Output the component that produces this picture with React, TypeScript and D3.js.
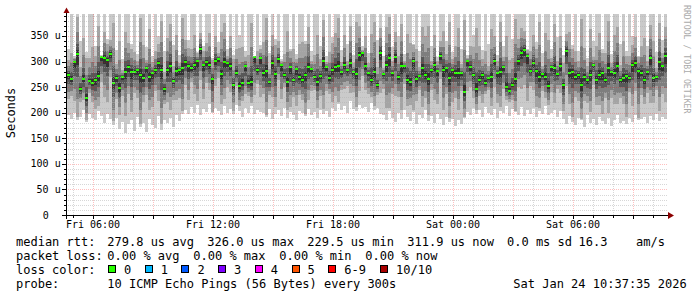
import React from "react";
import * as d3 from "d3";

const W = 697;
const H = 297;
const START = new Date(2026, 0, 23, 4, 42, 0);
const END = new Date(2026, 0, 24, 10, 42, 0);
const STEP_MS = 9 * 60 * 1000;
const Y_MAX = 393;

// median RTT per sample (microseconds)
const medianRtt = [
  274, 266, 300, 315, 246, 266, 229, 262, 258, 264, 272, 309, 307, 303, 315, 258, 268, 248, 270, 280,
  289, 280, 280, 283, 274, 268, 287, 270, 278, 283, 297, 283, 246, 283, 291, 262, 282, 283, 287, 299,
  291, 287, 293, 301, 325, 293, 299, 293, 266, 301, 305, 276, 299, 297, 291, 254, 278, 252, 258, 291,
  258, 260, 309, 283, 307, 278, 282, 260, 297, 276, 305, 293, 274, 260, 289, 264, 285, 270, 264, 274,
  289, 285, 270, 260, 272, 301, 289, 268, 283, 289, 291, 280, 293, 283, 297, 280, 276, 313, 317, 292,
  278, 264, 280, 254, 317, 276, 293, 307, 278, 309, 270, 291, 291, 264, 260, 301, 266, 272, 287, 274,
  266, 283, 293, 282, 311, 283, 287, 268, 283, 278, 278, 278, 240, 301, 289, 274, 246, 264, 274, 258,
  268, 270, 301, 278, 280, 289, 250, 242, 254, 266, 301, 317, 323, 311, 282, 297, 282, 270, 276, 270,
  252, 289, 287, 276, 291, 254, 321, 278, 280, 270, 274, 254, 270, 264, 274, 293, 264, 274, 278, 264,
  287, 280, 278, 291, 264, 268, 272, 268, 293, 297, 282, 278, 264, 280, 307, 268, 270, 299, 291, 311,
];

// slowest ping per sample (microseconds)
const maxPing = [
  325, 393, 310, 393, 340, 393, 318, 393, 393, 330, 393, 312, 393, 345, 393, 393, 322, 393, 305, 393,
  393, 335, 393, 315, 393, 393, 328, 393, 310, 393, 350, 393, 320, 393, 393, 332, 393, 312, 393, 393,
  342, 393, 393, 318, 393, 330, 393, 393, 306, 393, 338, 393, 393, 325, 393, 313, 393, 352, 393, 320,
  393, 393, 310, 393, 332, 393, 393, 316, 393, 345, 393, 305, 393, 393, 325, 393, 314, 393, 393, 340,
  393, 320, 393, 393, 330, 393, 310, 393, 348, 393, 393, 322, 393, 335, 393, 312, 393, 393, 330, 393,
  316, 393, 393, 342, 393, 310, 393, 393, 328, 393, 350, 393, 315, 393, 393, 335, 393, 320, 393, 393,
  393, 330, 393, 308, 393, 393, 340, 393, 318, 393, 393, 325, 393, 312, 393, 352, 393, 393, 322, 393,
  335, 393, 393, 313, 393, 330, 393, 393, 345, 393, 393, 393, 393, 325, 393, 393, 338, 393, 316, 393,
  393, 325, 393, 348, 393, 312, 393, 393, 332, 393, 320, 393, 393, 306, 393, 340, 393, 393, 325, 393,
  393, 315, 393, 393, 335, 393, 320, 393, 350, 393, 310, 393, 393, 330, 393, 393, 318, 393, 342, 393,
];

// fastest ping per sample (microseconds)
const minPing = [
  196, 188, 200, 185, 192, 205, 182, 198, 190, 186, 203, 194, 180, 197, 188,
  175, 190, 168, 182, 160, 178, 186, 165, 192, 172, 180, 163, 188, 176, 170, 194, 166, 185, 179, 190, 172, 195, 184, 198,
  205, 198, 212, 200, 215, 196, 208, 202, 218, 199, 210, 204, 195, 213, 200, 207, 198, 216, 203, 192, 209, 200, 214, 197, 206, 201,
  200, 192, 207, 188, 198, 205, 194, 210, 190, 202, 196, 186, 204, 199, 193, 208, 195, 201, 190, 206, 197, 203, 192,
  210, 204, 218, 206, 214, 200, 222, 208, 203, 216, 209, 212, 201, 219, 205, 210, 198,
  195, 186, 204, 190, 182, 199, 188, 206, 192, 184, 201, 178, 196, 189, 205, 183, 193, 180, 198, 187, 176, 192, 182, 188, 174, 185, 178, 190,
  202, 195, 210, 198, 206, 192, 212, 200, 196, 208, 190, 204, 199, 214, 193, 207, 201, 196, 211, 194, 205, 198, 209, 192, 203, 197, 213, 195, 200, 206, 191, 204,
  188, 178, 194, 182, 176, 190, 185, 172, 196, 180, 187, 175, 192, 183, 178, 189, 174, 186, 195, 180, 184, 177,
  190, 182, 196, 185, 188, 192, 180, 194, 186, 198, 184, 191, 187,
];

// how widely the middle pings spread round the median per sample (relative)
const coreSpread = [
  1.0, 0.7, 1.3, 1.6, 0.8, 1.1, 1.5, 0.6, 0.9, 1.2, 1.4, 0.7, 1.0, 1.3, 0.6, 1.5, 0.9, 1.1, 0.7, 1.2,
  0.8, 1.4, 0.6, 1.0, 1.6, 0.9, 0.7, 1.3, 1.1, 0.6, 1.2, 1.5, 0.8, 1.0, 1.4, 0.7, 1.1, 0.9, 1.6, 0.8,
  1.2, 0.6, 1.0, 1.5, 0.8, 1.3, 0.7, 1.1, 1.6, 0.9, 0.6, 1.2, 1.4, 0.8, 1.0, 1.5, 0.7, 1.3, 0.9, 1.1,
  0.7, 1.5, 1.1, 0.6, 1.2, 0.9, 1.6, 0.8, 1.0, 1.4, 0.7, 1.1, 0.6, 1.3, 1.5, 0.8, 1.2, 0.9, 1.0, 1.6,
  1.3, 0.8, 0.6, 1.2, 1.0, 1.5, 0.9, 0.7, 1.4, 1.1, 1.6, 0.8, 1.0, 0.6, 1.3, 0.9, 1.5, 1.2, 0.7, 1.0,
  0.9, 1.2, 1.5, 0.7, 1.1, 0.6, 1.3, 1.6, 0.8, 1.0, 0.9, 1.4, 0.7, 1.2, 1.0, 1.6, 0.8, 0.6, 1.3, 1.1,
  1.4, 0.7, 1.0, 1.3, 0.6, 1.2, 0.9, 1.5, 1.1, 0.8, 1.3, 0.6, 1.6, 1.0, 0.7, 1.2, 1.4, 0.9, 1.1, 0.8,
  0.6, 1.3, 0.9, 1.1, 1.5, 0.8, 1.2, 0.7, 1.0, 1.6, 0.8, 1.1, 0.9, 1.4, 0.6, 1.0, 1.3, 1.5, 0.7, 1.2,
  1.1, 0.9, 1.4, 0.6, 1.0, 1.3, 0.8, 1.2, 1.5, 0.7, 1.0, 1.6, 0.8, 1.1, 1.3, 0.6, 0.9, 1.2, 1.4, 0.7,
  1.5, 0.8, 1.1, 1.3, 0.7, 1.0, 1.4, 0.6, 1.2, 0.9, 1.6, 0.8, 1.1, 0.7, 1.3, 1.0, 0.6, 1.4, 0.9, 1.2,
];

const yTickValues = [0, 50, 100, 150, 200, 250, 300, 350];
const yTickLabels = ["0\u00a0\u00a0", "50 u", "100 u", "150 u", "200 u", "250 u", "300 u", "350 u"];

const legendRtt = ["279.8 us avg", "326.0 us max", "229.5 us min", "311.9 us now", "0.0 ms sd", "16.3", "am/s"];
const legendLoss = ["0.00 % avg", "0.00 % max", "0.00 % min", "0.00 % now"];
const lossLabels = ["0", "1", "2", "3", "4", "5", "6-9", "10/10"];
const lossColors = ["#26ff00", "#00b8ff", "#0059ff", "#7e00ff", "#ff00ff", "#ff5500", "#ff0000", "#a80000"];
const probeText = "10 ICMP Echo Pings (56 Bytes) every 300s";
const stampText = "Sat Jan 24 10:37:35 2026";

// smoke band shades (outer to inner) and their share of the spread
const shades = ["#cacaca", "#a4a4a4", "#7e7e7e", "#585858", "#323232"];
const upShare = [1, 0.58, 0.34, 0.16, 0.06];
const downShare = [1, 0.6, 0.42, 0.22, 0.1];

const MONO = "'DejaVu Sans Mono', monospace";

export default function App() {
  const left = 67, right = 667, top = 14, bottom = 215;
  const x = d3.scaleTime().domain([START, END]).range([left, right]);
  const y = d3.scaleLinear().domain([0, Y_MAX]).range([bottom, top]);
  const cy = (v: number) => y(Math.min(Math.max(v, 0), Y_MAX));

  const samples = medianRtt.map((m, i) => {
    const t0 = new Date(START.getTime() + i * STEP_MS);
    const t1 = new Date(START.getTime() + (i + 1) * STEP_MS);
    return { m, lo: minPing[i], hi: maxPing[i], k: coreSpread[i], x0: x(t0), x1: x(t1) };
  });

  const bands = shades.map((c, k) =>
    samples.map((s) => {
      const fu = k === 0 ? 1 : Math.min(0.95, upShare[k] * s.k);
      const fd = k === 0 ? 1 : Math.min(0.95, downShare[k] * s.k);
      return { x0: s.x0, x1: s.x1, hi: s.m + (s.hi - s.m) * fu, lo: s.m - (s.m - s.lo) * fd };
    })
  );

  const hours = d3.timeHour.range(START, new Date(END.getTime() + 1));
  const minorX = hours.filter((h) => h.getHours() % 3 !== 0);
  const majorX = hours.filter((h) => h.getHours() % 3 === 0);
  const labelX = hours.filter((h) => h.getHours() % 6 === 0);
  const fmt = d3.timeFormat("%a %H:%M");

  const minorY = d3.range(10, Y_MAX, 10).filter((v) => v % 50 !== 0);
  const majorY = d3.range(50, Y_MAX, 50);

  const py = (v: number) => Math.round(y(v)) + 0.5;
  const px = (d: Date) => Math.round(x(d)) + 0.5;

  const lx = 16;
  const vx = 107.3;
  const rttX = [107.3, 207.3, 307.3, 407.3, 507, 578.5, 636];
  const lossX = [107.3, 193.3, 279.3, 365.3];
  const boxX = [108.5, 145.2, 181.9, 218.6, 255.3, 292.0, 328.7, 380.5];
  const base = [245.5, 259.5, 273.5, 287.5];

  return (
    <div style={{ position: "fixed", left: 0, top: 0, width: W, height: H, background: "#fff" }}>
      <svg width={W} height={H} style={{ display: "block" }}>
        <rect x={0} y={0} width={W} height={H} fill="#ffffff" />
        {/* smoke */}
        <g shapeRendering="crispEdges">
          {bands.map((band, k) => (
            <g key={k} fill={shades[k]}>
              {band.map((b, i) => {
                const yt = cy(b.hi);
                const yb = cy(b.lo);
                return <rect key={i} x={b.x0} y={yt} width={b.x1 - b.x0} height={Math.max(0, yb - yt)} />;
              })}
            </g>
          ))}
          {/* median */}
          {samples.map((s, i) => (
            <rect key={"m" + i} x={s.x0} y={cy(s.m + 2)} width={s.x1 - s.x0} height={cy(s.m - 2) - cy(s.m + 2)} fill={lossColors[0]} />
          ))}
        </g>
        {/* grid */}
        <g strokeDasharray="1,1" shapeRendering="crispEdges">
          {minorY.map((v) => (
            <line key={"my" + v} x1={64} x2={right} y1={py(v)} y2={py(v)} stroke="#b0b0b0" strokeOpacity={0.5} />
          ))}
          {minorX.map((d, i) => (
            <line key={"mx" + i} x1={px(d)} x2={px(d)} y1={top} y2={bottom} stroke="#b0b0b0" strokeOpacity={0.5} />
          ))}
          {majorY.map((v) => (
            <line key={"My" + v} x1={62} x2={right} y1={py(v)} y2={py(v)} stroke="#ff0000" strokeOpacity={0.25} />
          ))}
          {majorX.map((d, i) => (
            <line key={"Mx" + i} x1={px(d)} x2={px(d)} y1={top} y2={bottom} stroke="#ff0000" strokeOpacity={0.25} />
          ))}
        </g>
        {/* axis ticks */}
        <g shapeRendering="crispEdges" stroke="#000">
          {majorY.map((v) => (
            <line key={"ty" + v} x1={62} x2={66} y1={py(v)} y2={py(v)} />
          ))}
          {minorY.map((v) => (
            <line key={"tmy" + v} x1={64} x2={66} y1={py(v)} y2={py(v)} />
          ))}
          {majorX.map((d, i) => (
            <line key={"tx" + i} x1={px(d)} x2={px(d)} y1={216} y2={219} />
          ))}
          {minorX.map((d, i) => (
            <line key={"tmx" + i} x1={px(d)} x2={px(d)} y1={216} y2={218} />
          ))}
          <line x1={62} x2={669} y1={215.5} y2={215.5} />
          <line x1={66.5} x2={66.5} y1={11} y2={219} />
        </g>
        {/* arrows */}
        <polygon points="63.5,13 69.5,13 66.5,7.5" fill="#8b0000" />
        <polygon points="668,212 668,219 674,215.5" fill="#8b0000" />
        {/* axis labels */}
        <g fontFamily={MONO} fontSize={10} fill="#000">
          {yTickValues.map((v, i) => (
            <text key={"yl" + v} x={60.7} y={y(v) + 3.5} textAnchor="end">
              {yTickLabels[i]}
            </text>
          ))}
          {labelX.map((d, i) => (
            <text key={"xl" + i} x={x(d)} y={228} textAnchor="middle">
              {fmt(d)}
            </text>
          ))}
        </g>
        <text transform="translate(14.5,113) rotate(-90)" textAnchor="middle" fontFamily={MONO} fontSize={12} fill="#000">
          Seconds
        </text>
        <text transform="translate(684,5) rotate(90)" fontFamily={MONO} fontSize={8.2} fill="#aaaaaa">
          RRDTOOL / TOBI OETIKER
        </text>
        {/* legend */}
        <g fontFamily={MONO} fontSize={12} fill="#000" style={{ whiteSpace: "pre" }}>
          <text x={lx} y={base[0]}>median rtt:</text>
          {legendRtt.map((t, i) => (
            <text key={"r" + i} x={rttX[i]} y={base[0]}>{t}</text>
          ))}
          <text x={lx} y={base[1]}>packet loss:</text>
          {legendLoss.map((t, i) => (
            <text key={"l" + i} x={lossX[i]} y={base[1]}>{t}</text>
          ))}
          <text x={lx} y={base[2]}>loss color:</text>
          {lossLabels.map((t, i) => (
            <g key={"c" + i}>
              <rect x={boxX[i]} y={265.5} width={7} height={7} fill={lossColors[i]} stroke="#000" strokeWidth={1} shapeRendering="crispEdges" />
              <text x={boxX[i] + 15.5} y={base[2]}>{t}</text>
            </g>
          ))}
          <text x={lx} y={base[3]}>probe:</text>
          <text x={vx} y={base[3]}>{probeText}</text>
          <text x={513.3} y={base[3]}>{stampText}</text>
        </g>
      </svg>
    </div>
  );
}
